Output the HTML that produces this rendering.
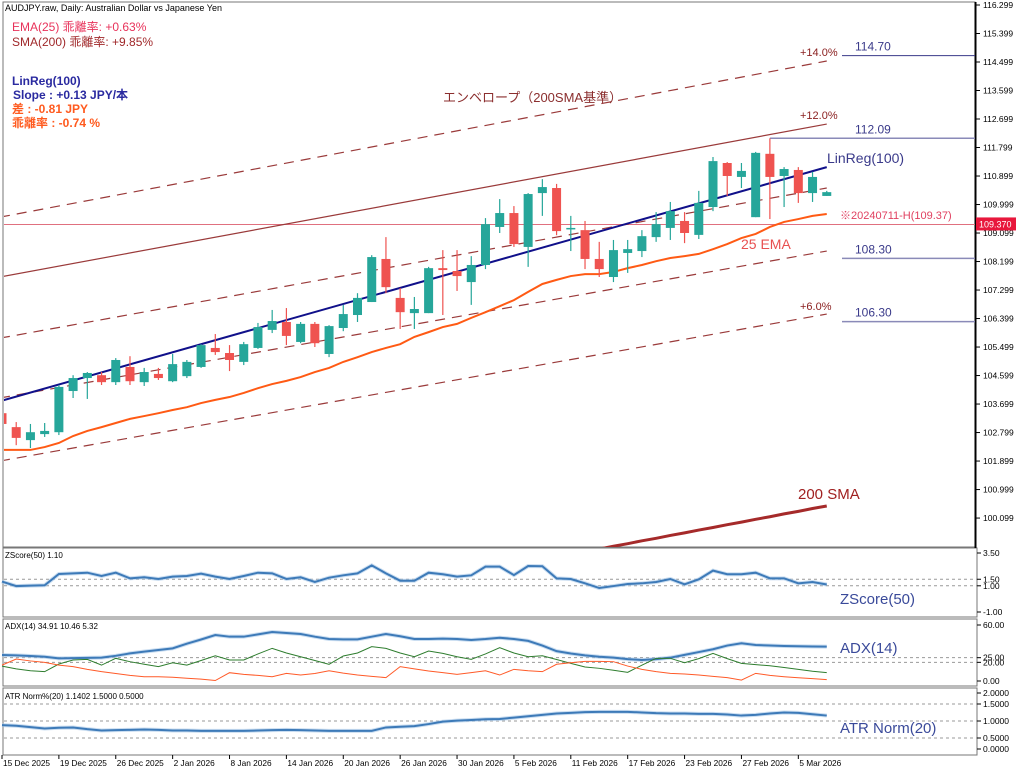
<!DOCTYPE html>
<html><head><meta charset="utf-8">
<style>
html,body{margin:0;padding:0;background:#fff;}
svg{display:block;font-family:"Liberation Sans","Noto Sans CJK JP",sans-serif;}
</style></head>
<body>
<svg id="chart" width="1024" height="773" viewBox="0 0 1024 773" xmlns="http://www.w3.org/2000/svg">
<rect x="0" y="0" width="1024" height="773" fill="#fff"/>
<g id="frames">
  <rect x="3" y="2" width="972" height="545" fill="none" stroke="#777" stroke-width="1"/>
  <rect x="3" y="548" width="974" height="69" fill="none" stroke="#777" stroke-width="1"/>
  <rect x="3" y="619" width="974" height="67" fill="none" stroke="#777" stroke-width="1"/>
  <rect x="3" y="688" width="974" height="67" fill="none" stroke="#777" stroke-width="1"/>
  <line x1="975.5" y1="2" x2="975.5" y2="548" stroke="#000" stroke-width="2"/>
</g>
<g id="main"></g>
<g id="subs"></g>
<g id="axes"></g>
<text x="5" y="11" font-size="9" fill="#000">AUDJPY.raw, Daily:  Australian Dollar vs Japanese Yen</text>
<text x="12" y="31" font-size="12" fill="#e8325a">EMA(25) 乖離率: +0.63%</text>
<text x="12" y="46" font-size="12" fill="#a0282a">SMA(200) 乖離率: +9.85%</text>
<text x="12" y="85" font-size="12" font-weight="bold" fill="#2a2aa0">LinReg(100)</text>
<text x="13" y="99" font-size="12" font-weight="bold" fill="#2a2aa0">Slope  : +0.13 JPY/本</text>
<text x="12" y="113" font-size="12" font-weight="bold" fill="#ff5a1e">差      : -0.81 JPY</text>
<text x="12" y="127" font-size="12" font-weight="bold" fill="#ff5a1e">乖離率 : -0.74 %</text>
<text x="443" y="102" font-size="13" fill="#8b2e2e">エンベロープ（200SMA基準）</text>
<text x="800" y="56" font-size="11" fill="#8b2020">+14.0%</text>
<text x="800" y="119" font-size="11" fill="#8b2020">+12.0%</text>
<text x="800" y="310" font-size="11" fill="#8b2020">+6.0%</text>
<text x="827" y="163" font-size="14" fill="#3a3a8a">LinReg(100)</text>
<text x="840" y="219" font-size="11" fill="#e04060">※20240711-H(109.37)</text>
<text x="741" y="249" font-size="14" fill="#e85050">25 EMA</text>
<text x="798" y="499" font-size="15" fill="#a02020">200 SMA</text>
<text x="5" y="558" font-size="8" fill="#000">ZScore(50) 1.10</text>
<text x="5" y="629" font-size="8" fill="#000">ADX(14) 34.91 10.46 5.32</text>
<text x="5" y="699" font-size="8" fill="#000">ATR Norm%(20) 1.1402 1.5000 0.5000</text>
<text x="840" y="604" font-size="15" fill="#3a4a9a">ZScore(50)</text>
<text x="840" y="653" font-size="15" fill="#3a4a9a">ADX(14)</text>
<text x="840" y="733" font-size="15" fill="#3a4a9a">ATR Norm(20)</text>
</svg>
<script>
const opens=[103.41,102.97,102.56,102.75,102.81,104.11,104.52,104.61,104.39,104.87,104.39,104.65,104.42,104.58,104.87,105.47,105.31,105.03,105.47,106.04,106.29,105.66,106.23,105.28,106.10,106.51,106.92,108.28,107.05,106.57,106.57,107.99,107.90,107.55,108.09,109.29,109.73,108.66,110.36,110.52,109.22,109.19,108.28,107.71,108.47,108.53,108.97,109.26,109.48,109.04,109.92,111.31,110.87,109.60,111.60,110.90,111.09,110.36,110.27];
const highs=[103.57,103.13,103.07,103.10,104.30,104.61,104.71,104.71,105.15,105.21,104.84,104.84,105.28,105.09,105.59,105.91,105.56,105.66,106.26,106.67,106.73,106.29,106.29,106.19,106.83,107.20,108.40,108.97,107.36,107.08,108.03,108.56,108.56,108.37,109.57,110.17,109.95,110.36,110.80,110.65,109.64,109.48,108.82,108.88,108.88,109.19,109.76,110.08,109.76,110.43,111.50,111.34,111.31,111.66,112.09,111.18,111.18,111.03,110.43];
const lows=[103.00,102.40,102.31,102.66,102.72,103.89,103.86,104.30,104.30,104.30,104.27,104.46,104.39,104.52,104.84,105.25,104.74,104.93,105.44,105.94,105.56,105.62,105.50,105.18,106.00,106.29,106.92,107.20,106.07,106.07,106.57,106.51,107.27,106.83,107.96,109.10,108.66,108.03,109.64,109.03,108.53,107.96,107.71,107.55,107.84,108.34,108.82,108.88,108.78,108.91,109.79,110.27,110.52,109.60,109.54,109.92,110.05,110.08,110.27];
const closes=[103.07,102.63,102.81,102.85,104.24,104.52,104.68,104.39,105.09,104.42,104.71,104.52,104.96,105.03,105.56,105.34,105.09,105.59,106.13,106.32,105.85,106.23,105.62,106.16,106.54,107.05,108.34,107.39,106.60,106.70,107.99,107.93,107.74,108.09,109.38,109.73,108.75,110.33,110.55,109.16,109.26,108.28,107.96,108.56,108.59,109.00,109.38,109.79,109.10,110.05,111.37,110.90,111.06,111.63,110.87,111.12,110.36,110.87,110.39];
const ema25=[102.25,102.25,102.25,102.34,102.47,102.69,102.85,102.97,103.10,103.23,103.32,103.41,103.51,103.60,103.73,103.83,103.92,104.05,104.20,104.33,104.43,104.55,104.71,104.84,105.03,105.18,105.34,105.47,105.59,105.82,105.97,106.13,106.23,106.42,106.60,106.79,106.98,107.24,107.49,107.62,107.74,107.80,107.80,107.87,107.99,108.09,108.21,108.31,108.37,108.44,108.59,108.75,108.94,109.07,109.29,109.45,109.54,109.64,109.70];
const sma200Start=40;
const sma200=[98.95,99.04,99.12,99.21,99.29,99.38,99.46,99.55,99.63,99.72,99.80,99.89,99.97,100.06,100.14,100.23,100.31,100.40,100.48];
const linregEnds=[103.79,111.18];
const envPct=[14,12,10,8,6];
const envStart=[109.60,107.71,105.78,103.89,101.90];
const envEnd=[114.53,112.54,110.52,108.53,106.54];
const levelValues=[114.70,112.09,108.30,106.30];
const levelLabels=["114.70","112.09","108.30","106.30"];
const levelStartIdx=[59,54,59,59];
const highRef=109.37;
const priceTicks=["116.299","115.399","114.499","113.599","112.699","111.799","110.899","109.999","109.099","108.199","107.299","106.399","105.499","104.599","103.699","102.799","101.899","100.999","100.099"];
const zscore=[1.32,0.98,1.01,1.04,1.90,1.95,2.00,1.75,2.00,1.57,1.65,1.52,1.70,1.75,1.93,1.70,1.52,1.75,2.00,1.95,1.52,1.65,1.29,1.62,1.80,1.95,2.56,1.95,1.39,1.39,2.00,1.88,1.70,1.80,2.46,2.46,1.82,2.51,2.49,1.57,1.52,1.19,0.83,0.98,1.14,1.19,1.29,1.52,1.11,1.49,2.16,1.88,1.88,2.00,1.57,1.57,1.19,1.29,1.10];
const zTicks=["3.50","1.50","1.00","-1.00"];
const adx=[27.9,27.5,26.8,26,24.3,24.5,24.8,25,27,29.6,31.5,33.2,35,40,44.5,49.3,47.5,47.5,50,52.5,51.5,50.4,47.5,45,44.6,44.6,47.5,50.4,48,45,45,45.4,45,44,45,46.4,45,43,38,32,29.5,27.5,26,25,23.5,22.5,23.5,25,28,31,34,38,40.4,38.6,38,37.5,37.2,37,36.8];
const plusDI=[16,13,11,10,18.2,22.5,23.2,17,24.3,20.7,18,15.4,19.6,17,22,27.1,22.5,22.5,29,35,30,26,22,17.9,26.8,30,36.8,35,30,26,32.1,29.6,26,23.2,29,35.7,30,26,27.1,23,18.9,15,13.6,11.5,9.3,17,24.3,24.3,19.6,24,29.6,24,18.9,17.5,16.4,14.5,12.5,10.5,9];
const minusDI=[17,23.6,21.5,20,17,15.4,12.5,10,8,6,4.6,4.6,4,3,2,0.5,8.9,7.1,6,4.6,8.2,6.4,8,11,8.5,6.4,5,3.6,15.4,13,10.7,9,7.1,9,11,6.4,12.5,11,10,17.9,19.5,21,21,20.7,16,12.5,10,8.2,7.5,6.4,5,3.6,1,8.2,6,4.6,3.5,2.5,1.5];
const adxTicks=["60.00","25.00","20.00","0.00"];
const atrNorm=[0.88,0.86,0.82,0.78,0.80,0.81,0.76,0.72,0.73,0.74,0.75,0.74,0.72,0.72,0.71,0.71,0.71,0.71,0.72,0.73,0.74,0.73,0.72,0.71,0.71,0.71,0.71,0.81,0.83,0.85,0.91,0.98,1.01,1.03,1.05,1.06,1.10,1.14,1.18,1.22,1.24,1.26,1.27,1.27,1.27,1.25,1.23,1.22,1.22,1.21,1.21,1.19,1.16,1.18,1.22,1.25,1.24,1.20,1.16];
const atrTicks=["2.0000","1.5000","1.0000","0.5000","0.0000"];
const dateLabels=["15 Dec 2025","19 Dec 2025","26 Dec 2025","2 Jan 2026","8 Jan 2026","14 Jan 2026","20 Jan 2026","26 Jan 2026","30 Jan 2026","5 Feb 2026","11 Feb 2026","17 Feb 2026","23 Feb 2026","27 Feb 2026","5 Mar 2026"];

const NS="http://www.w3.org/2000/svg";
function mk(tag,attrs,parent){const e=document.createElementNS(NS,tag);for(const k in attrs)e.setAttribute(k,attrs[k]);parent.appendChild(e);return e;}
const xS=i=>2+i*14.22;
const yP=p=>5+(116.299-p)*31.67;
const yZ=v=>612-(v+1)*13.1;
const yA=v=>681-v*0.933;
const yT=v=>755-v*34;
const main=document.getElementById('main');
const subs=document.getElementById('subs');
const axes=document.getElementById('axes');

// clip for main panel
const defs=mk('defs',{},main);
const cp=mk('clipPath',{id:'mainclip'},defs);
mk('rect',{x:4,y:3,width:971,height:544},cp);
const mg=mk('g',{'clip-path':'url(#mainclip)'},main);

// high reference line
let l=mk('line',{x1:4,x2:975,y1:yP(highRef),y2:yP(highRef),stroke:'#e0707f','stroke-width':1},mg);



// envelopes
for(let k=0;k<envPct.length;k++){
  const e=mk('line',{x1:0,y1:yP(envStart[k]),x2:xS(58),y2:yP(envEnd[k]),stroke:'#9a3a3a','stroke-width':1.2},mg);
  if(envPct[k]!==12)e.setAttribute('stroke-dasharray','10,7');
  
  
}
// horizontal levels
for(let k=0;k<levelValues.length;k++){
  const sx=levelStartIdx[k]===59?842:xS(levelStartIdx[k]);
  const h=mk('line',{x1:sx,x2:975,y1:yP(levelValues[k]),y2:yP(levelValues[k]),stroke:k===0?'#3a3a8a':'#8a8ab8','stroke-width':k===0?1:1.5},mg);
  
  
  const t=mk('text',{x:855,y:yP(levelValues[k])-5,'font-size':12,fill:'#3a3a8a'},main);
  t.textContent=levelLabels[k];
  
  
}
// EMA
let pts=ema25.map((v,i)=>xS(i)+','+yP(v)).join(' ');
let pl=mk('polyline',{points:pts,fill:'none',stroke:'#ff5a14','stroke-width':2},mg);


// SMA200
pts=sma200.map((v,i)=>xS(i+sma200Start)+','+yP(v)).join(' ');
pl=mk('polyline',{points:pts,fill:'none',stroke:'#a52a2a','stroke-width':3},mg);


// LinReg
l=mk('line',{x1:0,y1:yP(linregEnds[0]),x2:xS(58),y2:yP(linregEnds[1]),stroke:'#10108a','stroke-width':2},mg);


// candles
for(let i=0;i<opens.length;i++){
  const up=closes[i]>=opens[i];
  const col=up?'#26a69a':'#ef5350';
  const g=mk('g',{},mg);
  
  
  const x=xS(i);
  mk('line',{x1:x,x2:x,y1:yP(highs[i]),y2:yP(lows[i]),stroke:col,'stroke-width':1.2},g);
  const top=yP(Math.max(opens[i],closes[i])),bot=yP(Math.min(opens[i],closes[i]));
  mk('rect',{x:x-4.5,y:top,width:9,height:Math.max(bot-top,1.5),fill:col},g);
}
// price axis
priceTicks.forEach((t,k)=>{
  const y=yP(parseFloat(t));
  mk('line',{x1:975,x2:980,y1:y,y2:y,stroke:'#000','stroke-width':1},axes);
  const tx=mk('text',{x:983,y:y+3,'font-size':8.5,fill:'#000'},axes);
  tx.textContent=t;
  
  
});
let pr=mk('rect',{x:976,y:yP(highRef)-7,width:40,height:13,fill:'#e8173c'},axes);


let prt=mk('text',{x:979,y:yP(highRef)+3,'font-size':9,fill:'#fff'},axes);
prt.textContent='109.370';

// sub panel dotted lines
function dotted(y,x2){mk('line',{x1:4,x2:x2,y1:y,y2:y,stroke:'#999','stroke-width':1,'stroke-dasharray':'3,3'},subs);}
[1.5,1.0].forEach(v=>dotted(yZ(v),977));
[25,20].forEach(v=>dotted(yA(v),977));
[1.5,1.0,0.5].forEach(v=>dotted(yT(v),977));

function series(arr,yf,col,w,name){
  const p=arr.map((v,i)=>xS(i)+','+yf(v)).join(' ');
  if(w>=2){mk('polyline',{points:p,fill:'none',stroke:'#a8c8e8','stroke-width':w+2,opacity:0.6},subs);}
  const s=mk('polyline',{points:p,fill:'none',stroke:col,'stroke-width':w},subs);
  
  
}
series(zscore,yZ,'#3d7ab8',2,'zscore-line');
series(adx,yA,'#3d7ab8',2,'adx-line');
series(plusDI,yA,'#2e7d2e',1,'plus-di-line');
series(minusDI,yA,'#ff5a28',1,'minus-di-line');
series(atrNorm,yT,'#3d7ab8',2,'atr-norm-line');

function subTicks(labels,yf,yfix){
  labels.forEach((t,k)=>{
    let y=yfix&&yfix[k]!=null?yfix[k]:yf(parseFloat(t));
    mk('line',{x1:977,x2:981,y1:y,y2:y,stroke:'#000','stroke-width':1},axes);
    const tx=mk('text',{x:983,y:y+3,'font-size':8.5,fill:'#000'},axes);
    tx.textContent=t;
    
    
  });
}
subTicks(zTicks,yZ,[553,null,null,612]);
subTicks(adxTicks,yA,[625,null,null,null]);
subTicks(atrTicks,yT,[693,null,null,null,749]);

// date axis
dateLabels.forEach((d,k)=>{
  const x=xS(k*4);
  mk('line',{x1:x,x2:x,y1:755,y2:759,stroke:'#000','stroke-width':1},axes);
  const tx=mk('text',{x:x+1,y:766,'font-size':8.3,fill:'#000'},axes);
  tx.textContent=d;
  
  
});
</script>
</body></html>
